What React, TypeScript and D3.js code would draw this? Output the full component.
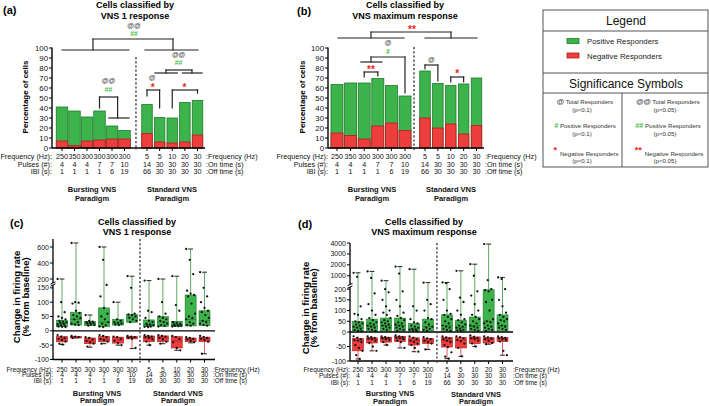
import React from "react";
import * as d3 from "d3";

// ---------- data ----------
const burstFreq = ["250", "350", "300", "300", "300", "300"];
const burstPulses = ["4", "4", "4", "7", "7", "10"];
const burstIBI = ["1", "1", "1", "1", "6", "19"];
const stdFreq = ["5", "5", "10", "20", "30"];
const stdOn = ["14", "30", "30", "30", "30"];
const stdOff = ["66", "30", "30", "30", "30"];

const aTotal = [41, 37, 31, 37, 22, 17.5, 43.5, 30.5, 30, 45.5, 47.5];
const aNegative = [7, 2.5, 7, 8, 9, 9, 14.5, 6, 5, 6, 13];
const bTotal = [63.5, 65, 65, 69.5, 62.5, 52, 77, 64.5, 62.5, 64, 70];
const bNegative = [15, 12.5, 9, 22, 25, 17.5, 30, 20, 24, 14, 22.5];
const pctTicks = d3.range(0, 101, 10);

// box stats: [min, q1, median, q3, max]
const cPosBox = [
  [12, 14, 25, 37, 200], [18, 20, 40, 65, 650], [17, 18, 27, 33, 55], [12, 14, 30, 80, 600],
  [18, 20, 28, 40, 100], [28, 30, 48, 57, 235], [12, 15, 22, 38, 180], [13, 15, 30, 50, 200],
  [14, 15, 22, 33, 235], [15, 17, 40, 125, 575], [17, 18, 35, 70, 285],
];
const cPosPts = [
  [200, 100, 65, 50, 45, 40, 35, 32, 30, 28, 25, 22, 20, 18, 15, 14, 13],
  [650, 100, 98, 95, 70, 62, 55, 50, 45, 40, 30, 25, 22, 20],
  [55, 35, 32, 30, 28, 27, 25, 22, 20, 18],
  [600, 440, 160, 120, 80, 60, 50, 40, 30, 25, 20, 15, 13],
  [100, 40, 35, 30, 28, 25, 22, 20],
  [235, 150, 60, 57, 55, 50, 45, 40, 35, 30],
  [180, 70, 65, 45, 35, 30, 25, 22, 20, 18, 15, 14, 13],
  [200, 100, 60, 50, 45, 40, 35, 30, 25, 20, 18, 15],
  [235, 90, 70, 30, 28, 25, 22, 20, 18, 17, 16, 15],
  [575, 440, 260, 140, 130, 125, 120, 95, 60, 50, 45, 40, 30, 25, 20, 18],
  [285, 150, 120, 100, 80, 70, 65, 55, 45, 35, 30, 25, 20, 18],
];
const cNegBox = [
  [-48, -38, -28, -20, -15], [-25, -25, -22, -20, -18], [-57, -45, -35, -25, -22], [-45, -38, -30, -20, -15],
  [-50, -43, -32, -22, -20], [-62, -28, -23, -20, -18], [-50, -38, -25, -18, -15], [-45, -38, -25, -18, -15],
  [-68, -60, -35, -20, -18], [-42, -38, -30, -25, -22], [-80, -38, -28, -22, -18],
];
const cNegPts = [
  [-15, -20, -25, -28, -32, -38, -45, -48],
  [-18, -20, -22, -25],
  [-22, -25, -30, -35, -40, -45, -55],
  [-15, -18, -22, -28, -32, -38, -45],
  [-20, -22, -28, -35, -42, -50],
  [-18, -20, -22, -25, -28, -60],
  [-15, -18, -20, -22, -25, -30, -38, -50],
  [-15, -18, -20, -25, -30, -38, -45],
  [-18, -22, -28, -40, -60, -68],
  [-22, -25, -28, -30, -35, -40],
  [-18, -22, -25, -28, -32, -38, -80],
];
const dPosBox = [
  [3, 5, 22, 50, 1270], [3, 5, 28, 60, 1400], [3, 5, 30, 65, 550], [3, 5, 30, 65, 1840],
  [3, 5, 15, 40, 1600], [3, 5, 25, 60, 370], [3, 5, 30, 80, 390], [3, 5, 20, 55, 1450],
  [3, 5, 30, 70, 2060], [3, 5, 50, 197, 3900], [3, 5, 30, 80, 850],
];
const dPosPts = [
  [1270, 900, 120, 85, 80, 60, 50, 45, 40, 35, 30, 25, 20, 15, 10, 5, 3],
  [1400, 800, 180, 130, 100, 80, 65, 55, 45, 40, 35, 30, 25, 20, 15, 10, 5],
  [550, 200, 185, 150, 120, 100, 90, 80, 65, 55, 50, 45, 40, 35, 30, 25, 20, 15, 10],
  [1840, 1200, 190, 150, 120, 90, 75, 65, 55, 45, 40, 35, 30, 25, 20, 15, 10, 5],
  [1600, 120, 100, 60, 45, 40, 30, 25, 20, 15, 12, 10, 8, 5],
  [370, 150, 130, 100, 65, 60, 45, 35, 25, 20, 15, 10, 5],
  [390, 320, 200, 150, 100, 85, 80, 70, 60, 50, 40, 30, 25, 20, 15, 10, 5],
  [1450, 160, 140, 100, 80, 60, 55, 45, 35, 30, 25, 20, 15, 10, 8, 5],
  [2060, 1000, 190, 170, 130, 100, 80, 70, 60, 50, 40, 30, 25, 20, 15, 10, 5],
  [3900, 600, 200, 195, 190, 150, 140, 100, 60, 50, 45, 40, 30, 25, 20, 15, 10, 5],
  [850, 700, 200, 150, 120, 90, 80, 70, 60, 55, 50, 40, 30, 25, 20, 15, 10],
];
const dNegBox = [
  [-93, -65, -30, -22, -15], [-65, -38, -25, -20, -15], [-45, -35, -22, -18, -15], [-55, -33, -20, -15, -12],
  [-68, -45, -30, -20, -15], [-60, -40, -30, -22, -18], [-92, -52, -30, -19, -15], [-84, -55, -28, -19, -15],
  [-50, -40, -22, -17, -12], [-42, -38, -25, -19, -15], [-80, -33, -22, -19, -15],
];
const dNegPts = [
  [-15, -20, -25, -28, -30, -35, -45, -55, -65, -80, -93],
  [-15, -18, -20, -22, -25, -30, -38, -50, -65],
  [-15, -18, -20, -22, -25, -28, -35, -45],
  [-12, -15, -18, -20, -22, -25, -30, -35, -55],
  [-15, -20, -25, -30, -35, -40, -45, -55, -68],
  [-18, -22, -25, -30, -35, -40, -60],
  [-15, -19, -22, -25, -30, -35, -45, -52, -70, -85, -92],
  [-15, -18, -22, -28, -32, -40, -55, -84],
  [-12, -17, -20, -22, -25, -30, -40, -50],
  [-15, -19, -22, -25, -30, -38, -42],
  [-15, -18, -20, -22, -25, -28, -33, -65, -80],
];

// significance annotations: segments [slot1, value1, slot2, value2], labels [slot, value, text, kind]
const aBrackets = [
  [0, 98, 5.2, 98], [5.91, 98, 10.04, 98], [2.48, 98, 2.48, 109], [8.06, 98, 8.06, 109], [2.48, 109, 8.06, 109],
  [6.63, 75, 8.4, 75], [8.8, 75, 10.36, 75], [7.5, 75, 7.5, 78], [9.56, 75, 9.56, 78], [7.5, 78, 9.56, 78],
  [6, 52, 6, 58], [6, 58, 7, 58], [7, 58, 7, 40],
  [8, 40, 8, 58], [8, 58, 10, 58], [10, 58, 10, 55],
  [3, 40, 3, 51], [3, 51, 4.45, 51], [4.45, 51, 4.45, 30], [3.75, 30, 5.2, 30],
];
const aMarks: any[] = [
  [5.42, 123, "@@", "at"], [5.42, 114.5, "##", "hash"],
  [8.5, 94, "@@", "at"], [8.5, 85.5, "##", "hash"],
  [6.4, 71, "@", "at"], [6.45, 63, "*", "star"],
  [8.97, 63, "*", "star"],
  [3.72, 67.5, "@@", "at"], [3.72, 59, "##", "hash"],
];
const bBrackets = [
  [0.07, 110, 4.93, 110], [6, 110, 10.04, 110], [2.5, 110, 2.5, 116], [8.02, 110, 8.02, 116], [2.5, 116, 8.02, 116],
  [1.76, 86, 3.3, 86], [2.5, 86, 2.5, 91], [2.5, 91, 5, 91], [5, 91, 5, 55],
  [2, 71, 2, 76], [2, 76, 3, 76], [3, 76, 3, 72],
  [6, 79, 6, 83], [6, 83, 7, 83], [7, 83, 7, 67],
  [8, 66, 8, 71], [8, 71, 9, 71], [9, 71, 9, 66],
];
const bMarks: any[] = [
  [5.35, 121, "**", "star"],
  [3.75, 105.5, "@", "at"], [3.75, 97, "#", "hash"],
  [2.5, 81, "**", "star"],
  [6.5, 89, "@", "at"],
  [8.5, 77, "*", "star"],
];

// ---------- style ----------
const FONT = "'Liberation Sans', Arial, Helvetica, sans-serif";
const GREEN = "#3cb44b";
const GREEN_STROKE = "#1d7a2c";
const GREEN_WHISK = "#4f9f55";
const RED = "#ee3d3d";
const RED_STROKE = "#b02020";
const RED_WHISK = "#d84a4a";
const MARK_COLOR: any = { at: "#4a4a4a", hash: "#45c045", star: "#ee2222" };

const leftRowLabels = ["Frequency (Hz):", "Pulses (#):", "IBI (s):"];
const rightRowLabels = [":Frequency (Hz)", ":On time (s)", ":Off time (s)"];

function makePos(xb: any, xs: any) {
  return (s: number) =>
    s <= 5 ? xb(s) : s >= 6 ? xs(s - 6) : xb(5) + (xs(0) - xb(5)) * (s - 5);
}

function Rows({ pos, c }: any) {
  const burst = [burstFreq, burstPulses, burstIBI];
  const std = [stdFreq, stdOn, stdOff];
  return (
    <g fontSize={c.rowFont} fill="#111">
      {c.rowY.map((ry: number, r: number) => (
        <g key={r}>
          <text x={c.axisX} y={ry} textAnchor="end" dominantBaseline="central">{leftRowLabels[r]}</text>
          {burst[r].map((t, i) => (
            <text key={"b" + i} x={pos(i)} y={ry} textAnchor="middle" dominantBaseline="central">{t}</text>
          ))}
          {std[r].map((t, j) => (
            <text key={"s" + j} x={pos(6 + j)} y={ry} textAnchor="middle" dominantBaseline="central">{t}</text>
          ))}
          <text x={c.rightX} y={ry} dominantBaseline="central">{rightRowLabels[r]}</text>
        </g>
      ))}
      {[["Bursting VNS", "Paradigm", c.parB], ["Standard VNS", "Paradigm", c.parS]].map((p: any, k) => (
        <g key={k} fontWeight="bold" fontSize={7.5} textAnchor="middle">
          <text x={p[2][0]} y={p[2][1]} dominantBaseline="central">{p[0]}</text>
          <text x={p[2][0]} y={p[2][1] + c.parGap} dominantBaseline="central">{p[1]}</text>
        </g>
      ))}
    </g>
  );
}

function Header({ c }: any) {
  return (
    <g>
      <text x={c.label[1]} y={c.label[2]} fontSize={11} fontWeight="bold" dominantBaseline="central">{c.label[0]}</text>
      {c.title.map((t: string, i: number) => (
        <text key={i} x={c.titleX} y={c.titleY[i]} fontSize={9} fontWeight="bold" textAnchor="middle" dominantBaseline="central">{t}</text>
      ))}
    </g>
  );
}

function BarPanel({ c }: any) {
  const y = d3.scaleLinear().domain([0, 100]).range([c.y0, c.y100]);
  const xb = d3.scaleLinear().domain([0, 5]).range(c.xb);
  const xs = d3.scaleLinear().domain([0, 4]).range(c.xs);
  const pos = makePos(xb, xs);
  return (
    <g>
      <Header c={c} />
      <text transform={`translate(${c.ylabX},${c.ylabY}) rotate(-90)`} textAnchor="middle" dominantBaseline="central" fontSize={8} fontWeight="bold">Percentage of cells</text>
      {c.total.map((t: number, i: number) => {
        const w = i < 6 ? c.bwB : c.bwS;
        const cx = pos(i);
        return (
          <g key={i}>
            <rect x={cx - w / 2} y={y(t)} width={w} height={y(0) - y(t)} fill={GREEN} stroke={GREEN_STROKE} strokeWidth={0.8} />
            <rect x={cx - w / 2} y={y(c.neg[i])} width={w} height={y(0) - y(c.neg[i])} fill={RED} stroke={RED_STROKE} strokeWidth={0.8} />
          </g>
        );
      })}
      <line x1={c.axisX} x2={c.axisX} y1={y(100) - 0.5} y2={y(0)} stroke="#000" strokeWidth={1.4} />
      {pctTicks.map((t) => (
        <g key={t}>
          <line x1={c.axisX - 3} x2={c.axisX} y1={y(t)} y2={y(t)} stroke="#000" strokeWidth={1} />
          <text x={c.axisX - 4} y={y(t)} textAnchor="end" dominantBaseline="central" fontSize={7.8} fill="#111">{t}</text>
        </g>
      ))}
      <line x1={c.axisX} x2={c.axisEnd} y1={y(0)} y2={y(0)} stroke="#000" strokeWidth={1.4} />
      {d3.range(c.total.length).map((i) => (
        <line key={i} x1={pos(i)} x2={pos(i)} y1={y(0)} y2={y(0) + 3} stroke="#000" strokeWidth={1} />
      ))}
      <line x1={pos(c.dashS)} x2={pos(c.dashS)} y1={y(c.dashV[0])} y2={y(c.dashV[1])} stroke="#333" strokeWidth={1.3} strokeDasharray="2.2,2" />
      {c.brackets.map((b: number[], i: number) => (
        <line key={i} x1={pos(b[0])} y1={y(b[1])} x2={pos(b[2])} y2={y(b[3])} stroke="#222" strokeWidth={1.2} strokeLinecap="square" />
      ))}
      {c.marks.map((m: any, i: number) => (
        <text key={i} x={pos(m[0])} y={y(m[1]) + (m[3] === "star" ? 2.5 : 0)} textAnchor="middle" dominantBaseline="central"
          fontSize={m[3] === "star" ? 10 : 6.8} fontWeight="bold" fill={MARK_COLOR[m[3]]}>{m[2]}</text>
      ))}
      <Rows pos={pos} c={c} />
    </g>
  );
}

function BoxGroup({ x, w, stats, pts, ymap, pos }: any) {
  const [mn, q1, md, q3, mx] = stats;
  const fill = pos ? GREEN : RED;
  const stroke = pos ? GREEN_STROKE : RED_STROKE;
  const wh = pos ? GREEN_WHISK : RED_WHISK;
  const capA = pos ? mx : mn;
  return (
    <g>
      <line x1={x} x2={x} y1={ymap(mx)} y2={ymap(q3)} stroke={wh} strokeWidth={0.9} />
      <line x1={x} x2={x} y1={ymap(q1)} y2={ymap(mn)} stroke={wh} strokeWidth={0.9} />
      <line x1={x - w * 0.22} x2={x + w * 0.22} y1={ymap(capA)} y2={ymap(capA)} stroke="#222" strokeWidth={1} />
      <rect x={x - w / 2} y={ymap(q3)} width={w} height={Math.max(0.8, ymap(q1) - ymap(q3))} fill={fill} stroke={stroke} strokeWidth={0.6} />
      <line x1={x - w / 2} x2={x + w / 2} y1={ymap(md)} y2={ymap(md)} stroke={stroke} strokeWidth={0.8} />
      {pts.map((v: number, i: number) => {
        const off = ((((i * 37) % 11) / 10) - 0.5) * w * 0.8;
        return <circle key={i} cx={x + off} cy={ymap(v)} r={1.15} fill="#111" />;
      })}
    </g>
  );
}

function BoxPanel({ c }: any) {
  const up = d3.scaleLinear().domain(c.upDom).range(c.upRng);
  const ps = d3.scaleLinear().domain(c.posDom).range(c.posRng);
  const ng = d3.scaleLinear().domain([-100, 0]).range(c.negRng);
  const ymap = (v: number) => (v > c.posDom[1] ? up(v) : v >= 0 ? ps(v) : ng(v));
  const xb = d3.scaleLinear().domain([0, 5]).range(c.xb);
  const xs = d3.scaleLinear().domain([0, 4]).range(c.xs);
  const pos = makePos(xb, xs);
  const yBottom = ng(-100);
  const tickSets = [
    { s: up, t: c.upTicks },
    { s: ps, t: c.posTicks },
    { s: ng, t: [-100, -50] },
  ];
  const breakYs = [c.upRng[0], c.posRng[1]];
  return (
    <g>
      <Header c={c} />
      <g fontSize={c.ylabFont} fontWeight="bold" textAnchor="middle">
        <text transform={`translate(${c.ylabX[0]},${c.ylabY}) rotate(-90)`} dominantBaseline="central">Change in firing rate</text>
        <text transform={`translate(${c.ylabX[1]},${c.ylabY}) rotate(-90)`} dominantBaseline="central">(% from baseline)</text>
      </g>
      {c.posBox.map((st: number[], i: number) => (
        <BoxGroup key={"p" + i} x={pos(i)} w={c.bw} stats={st} pts={c.posPts[i]} ymap={ymap} pos={true} />
      ))}
      {c.negBox.map((st: number[], i: number) => (
        <BoxGroup key={"n" + i} x={pos(i)} w={c.bw} stats={st} pts={c.negPts[i]} ymap={ymap} pos={false} />
      ))}
      <line x1={c.axisX} x2={c.axisX} y1={c.upRng[1]} y2={c.upRng[0]} stroke="#000" strokeWidth={1.3} />
      <line x1={c.axisX} x2={c.axisX} y1={c.posRng[1]} y2={yBottom} stroke="#000" strokeWidth={1.3} />
      {breakYs.map((by, i) => (
        <line key={i} x1={c.axisX - 2.5} x2={c.axisX + 2.5} y1={by + 1.2} y2={by - 1.2} stroke="#000" strokeWidth={1} />
      ))}
      {tickSets.map((ts, k) =>
        ts.t.map((t: number) => (
          <g key={k + "_" + t}>
            <line x1={c.axisX - 3} x2={c.axisX} y1={ts.s(t)} y2={ts.s(t)} stroke="#000" strokeWidth={1} />
            <text x={c.axisX - 4} y={ts.s(t)} textAnchor="end" dominantBaseline="central" fontSize={7} fill="#111">{t}</text>
          </g>
        ))
      )}
      <line x1={c.axisX} x2={c.axisEnd} y1={ps(0)} y2={ps(0)} stroke="#000" strokeWidth={1.3} />
      <line x1={c.axisX} x2={c.axisEnd} y1={yBottom} y2={yBottom} stroke="#000" strokeWidth={1.3} />
      {d3.range(11).map((i) => (
        <line key={i} x1={pos(i)} x2={pos(i)} y1={yBottom} y2={yBottom + 3} stroke="#000" strokeWidth={1} />
      ))}
      <line x1={pos(c.dashS)} x2={pos(c.dashS)} y1={c.upRng[1]} y2={yBottom + 3} stroke="#333" strokeWidth={1.3} strokeDasharray="2.2,2" />
      <Rows pos={pos} c={c} />
    </g>
  );
}

const A = {
  label: ["(a)", 3, 10], title: ["Cells classified by", "VNS 1 response"], titleX: 135, titleY: [5, 15.5],
  y0: 148, y100: 48, axisX: 52, axisEnd: 205, xb: [62, 124.5], xs: [147, 197.5], bwB: 11.5, bwS: 10.5,
  total: aTotal, neg: aNegative, brackets: aBrackets, marks: aMarks, dashS: 5.51, dashV: [91, -2],
  ylabX: 25, ylabY: 97, rowY: [156.5, 164, 171.5], rowFont: 7.2, rightX: 206,
  parB: [92, 189], parS: [172, 189], parGap: 9,
};
const B = {
  label: ["(b)", 297, 11], title: ["Cells classified by", "VNS maximum  response"], titleX: 405, titleY: [5, 15.5],
  y0: 148, y100: 48, axisX: 328, axisEnd: 484, xb: [337, 405], xs: [425, 476.5], bwB: 12, bwS: 10.5,
  total: bTotal, neg: bNegative, brackets: bBrackets, marks: bMarks, dashS: 5.45, dashV: [101, -4],
  ylabX: 302, ylabY: 97, rowY: [156.5, 164, 171.5], rowFont: 7.2, rightX: 485,
  parB: [372, 189.5], parS: [451, 189.5], parGap: 9,
};
const C = {
  label: ["(c)", 10, 223], title: ["Cells classified by", "VNS 1 response"], titleX: 137, titleY: [222, 232],
  upDom: [150, 700], upRng: [283, 239], upTicks: [200, 400, 600],
  posDom: [0, 160], posRng: [330.8, 285], posTicks: [0, 50, 100, 150], negRng: [359.5, 330.8],
  axisX: 53, axisEnd: 215, xb: [62, 132], xs: [149, 204.5], bw: 11, dashS: 5.47,
  posBox: cPosBox, posPts: cPosPts, negBox: cNegBox, negPts: cNegPts,
  ylabX: [16, 25], ylabY: 297, ylabFont: 9.5,
  rowY: [369, 374.5, 380], rowFont: 6.5, rightX: 213,
  parB: [97, 393], parS: [178, 393], parGap: 7.5,
};
const D = {
  label: ["(d)", 298, 224], title: ["Cells classified by", "VNS maximum  response"], titleX: 424, titleY: [222, 232],
  upDom: [200, 4000], upRng: [284.5, 243], upTicks: [1000, 2000, 3000, 4000],
  posDom: [0, 210], posRng: [332, 287], posTicks: [0, 50, 100, 150, 200], negRng: [361, 332],
  axisX: 350, axisEnd: 513, xb: [358, 428], xs: [447, 502.5], bw: 11, dashS: 5.47,
  posBox: dPosBox, posPts: dPosPts, negBox: dNegBox, negPts: dNegPts,
  ylabX: [305, 313.5], ylabY: 308, ylabFont: 9.5,
  rowY: [369.5, 375.5, 382], rowFont: 6.5, rightX: 513,
  parB: [390, 393.5], parS: [476, 394], parGap: 7.5,
};

const legendItems = [
  { label: "Positive Responders", fill: GREEN, stroke: GREEN_STROKE },
  { label: "Negative Responders", fill: RED, stroke: RED_STROKE },
];
const sigRows = [
  { sym: ["@", "@@"], kind: "at", text: "Total Responders" },
  { sym: ["#", "##"], kind: "hash", text: "Positive Responders" },
  { sym: ["*", "**"], kind: "star", text: "Negative Responders" },
];
const pLabels = ["(p<0.1)", "(p<0.05)"];

function Legend() {
  const L = 543, R = 708, T = 10, Bt = 167, mid = 622;
  const rowY = [101, 125, 150];
  return (
    <g>
      <rect x={L} y={T} width={R - L} height={Bt - T} fill="#fff" stroke="#555" strokeWidth={1} />
      <line x1={L} x2={R} y1={31} y2={31} stroke="#555" />
      <line x1={L} x2={R} y1={73} y2={73} stroke="#555" />
      <line x1={L} x2={R} y1={93} y2={93} stroke="#555" />
      <line x1={mid} x2={mid} y1={93} y2={Bt} stroke="#555" />
      <text x={626} y={21} fontSize={12} textAnchor="middle" dominantBaseline="central" fill="#111">Legend</text>
      {legendItems.map((it, i) => (
        <g key={i}>
          <rect x={567} y={38.5 + i * 14.5} width={12} height={5} fill={it.fill} stroke={it.stroke} strokeWidth={0.8} />
          <text x={587} y={41.5 + i * 14.5} fontSize={7.8} dominantBaseline="central" fill="#222">{it.label}</text>
        </g>
      ))}
      <text x={626} y={83.5} fontSize={12} textAnchor="middle" dominantBaseline="central" fill="#111">Significance Symbols</text>
      {[0, 1].map((col) => {
        const cx = col === 0 ? 582 : 665;
        return (
          <g key={col}>
            {sigRows.map((r, k) => {
              const isStar = r.kind === "star";
              const ty = rowY[k] + (isStar ? 2.5 : 0);
              return (
                <g key={k}>
                  <text x={cx + (isStar ? 4 : 3)} y={ty} fontSize={6.1} textAnchor="middle" dominantBaseline="central" fill="#333">
                    <tspan fontSize={isStar ? 9 : 7.5} fontWeight="bold" fill={MARK_COLOR[r.kind]} dy={isStar ? -3 : 0}>{r.sym[col]}</tspan>
                    <tspan dx={isStar ? 3 : 1.5} dy={isStar ? 3 : 0}>{r.text}</tspan>
                  </text>
                  <text x={cx} y={ty + 8} fontSize={6.1} textAnchor="middle" dominantBaseline="central" fill="#333">{pLabels[col]}</text>
                </g>
              );
            })}
          </g>
        );
      })}
    </g>
  );
}

export default function App() {
  return (
    <svg width={709} height={406} viewBox="0 0 709 406" style={{ position: "absolute", left: 0, top: 0, background: "#fff" }} fontFamily={FONT}>
      <rect width={709} height={406} fill="#fff" />
      <BarPanel c={A} />
      <BarPanel c={B} />
      <BoxPanel c={C} />
      <BoxPanel c={D} />
      <Legend />
    </svg>
  );
}
